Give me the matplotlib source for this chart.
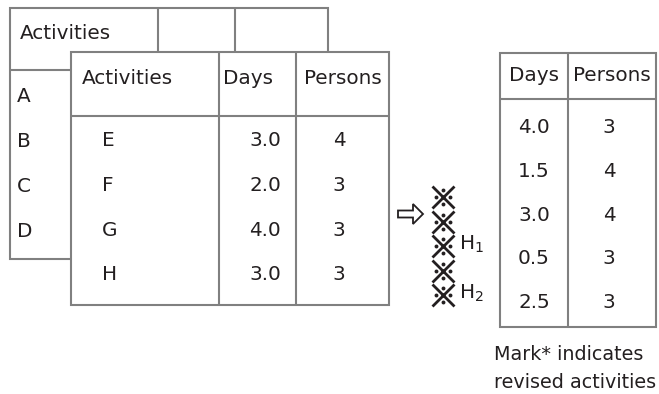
import matplotlib.pyplot as plt
from matplotlib.patches import Rectangle, Polygon

# data
back_acts = ["A", "B", "C", "D"]
front_acts = ["E", "F", "G", "H"]
front_days = [3.0, 2.0, 4.0, 3.0]
front_persons = [4, 3, 3, 3]
rev_days = [4.0, 1.5, 3.0, 0.5, 2.5]
rev_persons = [3, 4, 4, 3, 3]
marks = ["", "", "H1", "", "H2"]
caption = ["Mark* indicates", "revised activities"]

LINE = "#808080"
INK = "#231f20"
LW = 1.5
FS = 14.4
plt.rcParams["font.family"] = ["DejaVu Sans"]

fig = plt.figure(figsize=(6.59, 3.94), dpi=100)
ax = fig.add_axes([0, 0, 1, 1])
ax.set_xlim(0, 659)
ax.set_ylim(394, 0)
ax.axis("off")


def box(x0, y0, x1, y1, z):
    ax.add_patch(Rectangle((x0, y0), x1 - x0, y1 - y0, facecolor="white",
                           edgecolor=LINE, linewidth=LW, zorder=z))


def line(xs, ys, z):
    ax.plot(xs, ys, color=LINE, lw=LW, zorder=z, solid_capstyle="butt")


# back table
box(10, 8, 328, 259, 1)
line([158, 158], [8, 70], 1.1)
line([235, 235], [8, 70], 1.1)
line([10, 328], [70, 70], 1.1)
ax.text(20, 33, "Activities", fontsize=FS, color=INK, va="center", zorder=1.2)
for i, a in enumerate(back_acts):
    ax.text(17, 96 + 45 * i, a, fontsize=FS, color=INK, va="center", zorder=1.2)

# front table
box(71, 52, 389, 305, 2)
line([219, 219], [52, 305], 2.1)
line([296, 296], [52, 305], 2.1)
line([71, 389], [116, 116], 2.1)
ax.text(82, 78, "Activities", fontsize=FS, color=INK, va="center", zorder=3)
ax.text(223, 78, "Days", fontsize=FS, color=INK, va="center", zorder=3)
ax.text(304, 78, "Persons", fontsize=FS, color=INK, va="center", zorder=3)
for i in range(len(front_acts)):
    y = 140 + 45 * i
    ax.text(102, y, front_acts[i], fontsize=FS, color=INK, va="center", zorder=3)
    ax.text(281, y, f"{front_days[i]:.1f}", fontsize=FS, color=INK,
            va="center", ha="right", zorder=3)
    ax.text(339, y, str(front_persons[i]), fontsize=FS, color=INK,
            va="center", ha="center", zorder=3)

# hollow arrow
ax.add_patch(Polygon([(398, 210.5), (413, 210.5), (413, 204), (423, 214),
                      (413, 224), (413, 217.5), (398, 217.5)],
                     closed=True, facecolor="white", edgecolor=INK, lw=1.3))

# revised marks
for i, m in enumerate(marks):
    y = 197 + 24.5 * i
    ax.plot(442.5, y, marker="x", markersize=16, mew=2.0, color=INK)
    for dx, dy in [(0, -7), (0, 7), (-7, 0), (7, 0)]:
        ax.plot(442.5 + dx, y + dy, marker="o", markersize=2.8, color=INK, mew=0)
    if m:
        ax.text(459, y - 2, f"H$_{m[1]}$", fontsize=FS, color=INK, va="center")

# revised table
box(500, 53, 656, 327, 2)
line([568, 568], [53, 327], 2.1)
line([500, 656], [99, 99], 2.1)
ax.text(534, 75, "Days", fontsize=FS, color=INK, va="center", ha="center", zorder=3)
ax.text(612, 75, "Persons", fontsize=FS, color=INK, va="center", ha="center", zorder=3)
for i in range(len(rev_days)):
    y = 127 + 44 * i
    ax.text(534, y, f"{rev_days[i]:.1f}", fontsize=FS, color=INK,
            va="center", ha="center", zorder=3)
    ax.text(609, y, str(rev_persons[i]), fontsize=FS, color=INK,
            va="center", ha="center", zorder=3)

for i, c in enumerate(caption):
    ax.text(494, 354 + 29 * i, c, fontsize=13.8, color=INK, va="center")

fig.savefig("out.png", dpi=100)
